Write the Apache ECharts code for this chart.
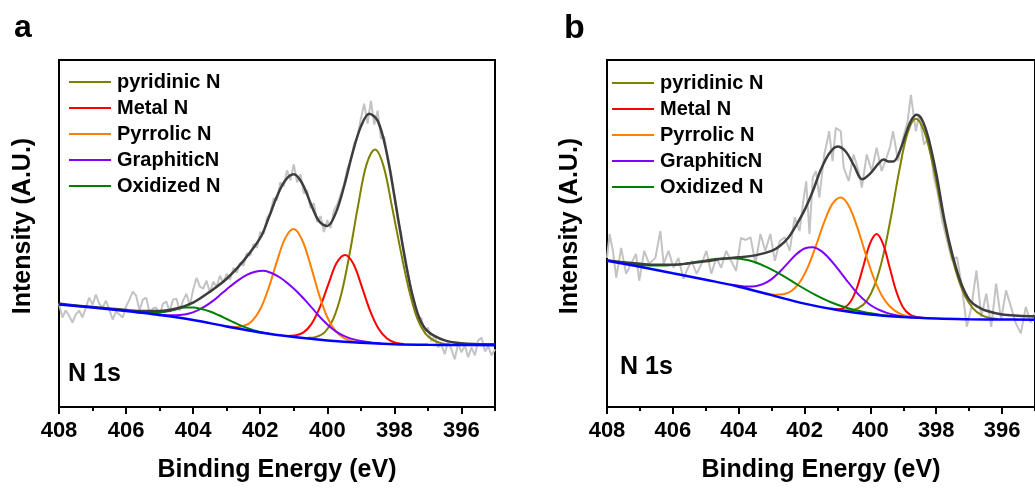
<!DOCTYPE html>
<html>
<head>
<meta charset="utf-8">
<script src="https://cdn.jsdelivr.net/npm/echarts@6/dist/echarts.min.js"></script>
<style>html,body{margin:0;padding:0;background:#fff}#c{width:1035px;height:488px}</style>
</head>
<body>
<div id="c"></div>
<script>
// ---------- DATA (binding energy eV, intensity in arbitrary units) ----------
const componentNames = ['pyridinic N', 'Metal N', 'Pyrrolic N', 'GraphiticN', 'Oxidized N'];
const majorTicks = [408, 406, 404, 402, 400, 398, 396];

// Panel a
const rawA = [
[408.0,104],[407.9,90],[407.8,97],[407.7,92],[407.6,85],[407.5,93],[407.4,97],[407.3,90],[407.2,100],[407.1,110],
[407.0,103],[406.9,113],[406.8,104],[406.7,100],[406.6,107],[406.5,98],[406.4,88],[406.3,96],[406.2,93],[406.1,90],
[406.0,101],[405.9,108],[405.8,116],[405.7,112],[405.6,97],[405.5,108],[405.4,110],[405.3,95],[405.2,99],[405.1,100],
[405.0,91],[404.9,104],[404.8,106],[404.7,96],[404.6,108],[404.5,109],[404.4,97],[404.3,107],[404.2,114],[404.1,102],
[404.0,118],[403.9,130],[403.8,121],[403.7,119],[403.6,127],[403.5,115],[403.4,126],[403.3,121],[403.2,132],[403.1,125],
[403.0,134],[402.9,128],[402.8,140],[402.7,135],[402.6,145],[402.5,142],[402.4,155],[402.3,152],[402.2,164],[402.1,160],
[402.0,176],[401.9,174],[401.8,190],[401.7,195],[401.6,210],[401.5,208],[401.4,226],[401.3,222],[401.2,238],[401.1,228],
[401.0,244],[400.9,226],[400.8,234],[400.7,215],[400.6,218],[400.5,200],[400.4,205],[400.3,186],[400.2,192],[400.1,176],
[400.0,188],[399.9,180],[399.8,198],[399.7,204],[399.6,214],[399.5,224],[399.4,240],[399.3,248],[399.2,265],[399.1,272],
[399.0,290],[398.9,305],[398.8,285],[398.7,308],[398.6,284],[398.5,298],[398.4,270],[398.3,272],[398.2,248],[398.1,236],
[398.0,214],[397.9,188],[397.8,175],[397.7,150],[397.6,135],[397.5,118],[397.4,106],[397.3,88],[397.2,90],[397.1,75],
[397.0,80],[396.9,66],[396.8,72],[396.7,60],[396.6,63],[396.5,53],[396.4,66],[396.3,58],[396.2,48],[396.1,64],
[396.0,55],[395.9,62],[395.8,50],[395.7,60],[395.6,52],[395.5,67],[395.4,70],[395.3,56],[395.2,61],[395.1,52],[395.0,58]
];
const envelopeA = [[408,104],[407.5,102],[407,100.5],[406.5,99],[406,97.5],[405.5,96.5],[405,96.5],[404.5,99],[404,105],[403.5,116],[403,129],[402.5,147],[402,170],[401.75,190],[401.5,212],[401.25,228],[401,234],[400.75,225],[400.5,205],[400.25,187],[400,182],[399.75,195],[399.5,222],[399.25,255],[399,282],[398.75,295],[398.5,288],[398.25,259],[398,212],[397.75,162],[397.5,118],[397.25,89],[397,76],[396.5,67],[396,64],[395.5,63.2],[395,63]];
const pyridinicA = [[400.58,69.6],[400.33,70.5],[400.08,75],[399.83,88],[399.58,114],[399.33,155],[399.08,203],[398.83,244],[398.58,259],[398.33,243],[398.08,203],[397.83,160],[397.58,120],[397.33,90],[397.08,74],[396.83,67],[396.58,64],[396.33,62.5]];
const metalA = [[401.22,71.5],[400.97,72],[400.72,74.8],[400.47,83.6],[400.22,100.4],[399.97,123.3],[399.72,145],[399.47,153],[399.22,143.9],[398.97,120.8],[398.72,96.4],[398.47,78.6],[398.22,68.8],[397.97,64.6],[397.72,63.3]];
const pyrrolicA = [[403,81.2],[402.75,80.5],[402.5,81.4],[402.25,86.3],[402,98.3],[401.75,119.6],[401.5,146.7],[401.25,170.1],[401,179],[400.75,168],[400.5,142.7],[400.25,113.5],[400,90.3],[399.75,76.2],[399.5,69.2],[399.25,66.1],[399,64.7]];
const graphiticA = [[404.9,92.6],[404.65,92.3],[404.4,92.6],[404.15,93.8],[403.9,96.7],[403.65,101.2],[403.4,107],[403.15,114.1],[402.9,121.1],[402.65,127.6],[402.4,132.9],[402.15,136.1],[401.9,137],[401.65,134.5],[401.4,130],[401.15,123.5],[400.9,116],[400.65,107],[400.4,97.5],[400.15,88],[399.9,80],[399.65,74],[399.4,70],[399.15,67.5],[398.9,65.8],[398.65,64.6],[398.4,63.8]];
const oxidizedA = [[405.75,95.6],[405.5,94.8],[405.25,94.5],[405,94.9],[404.75,96.2],[404.5,98.3],[404.25,100],[404,100],[403.75,98.5],[403.5,96],[403.25,92.5],[403,88.5],[402.75,84.5],[402.5,80.8],[402.25,77.8],[402,75.5],[401.75,73.9]];
const baselineA = [[408,103],[407,100],[406,96.5],[405,92.5],[404,87.5],[403,81],[402,75],[401,70.5],[400,67],[399,64.5],[398,63],[397,62.5],[396,62.3],[395,62.2]];

// Panel b
const rawB = [
[408.0,150],[407.92,174],[407.82,157],[407.72,130],[407.57,160],[407.42,134],[407.27,144],[407.12,154],[407.02,127],[406.87,157],
[406.72,144],[406.53,150],[406.38,177],[406.28,144],[406.13,157],[405.98,140],[405.83,150],[405.68,129],[405.58,137],[405.43,147],
[405.28,134],[405.13,144],[404.98,157],[404.83,134],[404.68,150],[404.53,140],[404.38,157],[404.23,147],[404.08,137],[403.93,170],
[403.79,168],[403.64,170.7],[403.49,144],[403.34,174],[403.19,157],[403.04,174],[402.9,147],[402.75,167],[402.6,170.7],[402.45,157],
[402.3,190.7],[402.15,177],[402.05,204],[401.95,227],[401.85,174],[401.75,230.7],[401.65,237.3],[401.55,210.7],[401.4,254],[401.25,277.3],
[401.15,247.3],[401.05,280.7],[400.9,277.3],[400.81,240.7],[400.66,227.3],[400.51,254],[400.36,237.3],[400.26,220.7],[400.11,254],[399.96,237.3],
[399.81,260.7],[399.66,237.3],[399.51,250.7],[399.4,262],[399.31,277.3],[399.16,247.3],[399.01,270],[398.87,287.3],[398.77,314],[398.62,277.3],
[398.52,294],[398.37,264],[398.22,270.7],[398.07,230.7],[397.97,217.3],[397.82,187.3],[397.67,167.3],[397.52,147.3],[397.37,150.7],[397.22,120.7],
[397.07,80.7],[396.93,100.7],[396.78,137.3],[396.63,90.7],[396.48,114],[396.33,80.7],[396.18,124],[396.03,87.3],[395.88,117.3],[395.73,100.7],
[395.58,84],[395.43,74],[395.28,100.7],[395.13,85],[395.0,95]
];
const envelopeB = [[408,147.5],[407.5,145.5],[407,144],[406.5,143],[406,143],[405.5,144.5],[405,146.5],[404.5,149],[404,150.5],[403.5,152.5],[403,157],[402.75,162],[402.5,170],[402.25,183],[402,198],[401.75,217],[401.5,239],[401.25,255],[401,262],[400.75,257],[400.5,243],[400.25,229],[400,235],[399.75,245],[399.6,249],[399.45,247],[399.3,247],[399.1,258],[398.9,277],[398.75,289],[398.6,294],[398.45,290],[398.25,272],[398,235],[397.75,188],[397.5,152],[397.25,125],[397,108],[396.75,101],[396.5,97],[396,93],[395.5,91.8],[395,91.2]];
const pyridinicB = [[400.87,97.2],[400.62,97.3],[400.37,99.5],[400.12,106.3],[399.87,122.5],[399.62,151],[399.37,192],[399.12,238.2],[398.87,275.7],[398.62,290],[398.37,277.8],[398.12,246.4],[397.87,205.1],[397.62,164.9],[397.37,133],[397.12,111.2],[396.87,98.7],[396.62,92.4],[396.37,89.6],[396.12,88.5]];
const metalB = [[401.21,99],[401.01,98.3],[400.81,99.6],[400.61,105.6],[400.41,119.7],[400.21,142.1],[400.01,164.5],[399.81,174],[399.61,163.5],[399.41,139.7],[399.21,115.9],[399.01,100.4],[398.81,93.2],[398.61,90.6],[398.41,89.7]];
const pyrrolicB = [[403.15,114.2],[402.9,112.9],[402.65,113.3],[402.4,116.7],[402.15,125.2],[401.9,140.7],[401.65,162.5],[401.4,186.2],[401.15,204.6],[400.9,210.7],[400.65,202],[400.4,180.9],[400.15,154.5],[399.9,130],[399.65,112],[399.4,100.8],[399.15,94.7],[398.9,91.5],[398.65,90.3]];
const graphiticB = [[404.25,123.1],[404,121.9],[403.75,121.1],[403.5,121.5],[403.25,123.8],[403,128.6],[402.75,136.1],[402.5,145],[402.25,153.6],[402,159.4],[401.75,160.7],[401.5,157],[401.25,149.4],[401,139.3],[400.75,128.7],[400.5,118.4],[400.25,109.5],[400,102.6],[399.75,97.9],[399.5,94.7],[399.25,92.6],[399,91.1]];
const oxidizedB = [[408,147.3],[407.7,145.8],[407.2,143.8],[406.7,142.4],[406.2,142.4],[405.7,143.8],[405.2,146.3],[404.7,148.8],[404.2,149.7],[403.7,147.5],[403.2,141.5],[402.7,132.9],[402.2,122.7],[401.7,113.3],[401.2,105.4],[400.7,99.6],[400.2,95.5],[399.7,92.9],[399.2,91.2]];
const baselineB = [[408,147],[407,141],[406,134.5],[405,128],[404,121],[403,112.5],[402,104],[401,97.5],[400,93],[399,90.5],[398,89],[397,88.3],[396,88],[395,87.8]];

// ---------- STYLE ----------
const FONT = '"Liberation Sans", Arial, sans-serif';
const colors = {
  raw: '#c3c3c3', fit: '#3d3d3d',
  'pyridinic N': '#808000', 'Metal N': '#ff0000', 'Pyrrolic N': '#ff8000',
  'GraphiticN': '#8000ff', 'Oxidized N': '#008000', base: '#0000ff'
};

function line(name, data, idx, color, width, smooth, z) {
  return {
    name: name, type: 'line', data: data, xAxisIndex: idx * 2, yAxisIndex: idx,
    showSymbol: false, symbol: 'none', smooth: smooth, animation: false, z: z,
    color: color, itemStyle: { color: color },
    lineStyle: { color: color, width: width }
  };
}
function panelSeries(idx, raw, env, comps, base) {
  const s = [line('Raw', raw, idx, colors.raw, 2, false, 2)];
  comps.forEach((d, i) => s.push(line(componentNames[i], d, idx, colors[componentNames[i]], 2, 0.35, 3)));
  s.push(line('Fit', env, idx, colors.fit, 2.5, 0.35, 4));
  s.push(line('Background', base, idx, colors.base, 2.5, 0.4, 5));
  return s;
}

function xAxes(gridIndex) {
  const common = { gridIndex: gridIndex, type: 'value', inverse: true, min: 395, max: 408, interval: 1, position: 'bottom', splitLine: { show: false } };
  return [
    Object.assign({}, common, {
      axisLine: { show: true, onZero: false, lineStyle: { color: '#000', width: 2 } },
      axisTick: { show: true, length: 4, lineStyle: { color: '#000', width: 2 } },
      axisLabel: { customValues: majorTicks, margin: 13, fontSize: 22, fontWeight: 'bold', color: '#000', fontFamily: FONT },
      name: 'Binding Energy (eV)', nameLocation: 'middle', nameGap: 51,
      nameTextStyle: { fontSize: 25, fontWeight: 'bold', color: '#000', fontFamily: FONT }
    }),
    Object.assign({}, common, {
      axisLine: { show: false },
      axisTick: { show: true, customValues: majorTicks, length: 7, lineStyle: { color: '#000', width: 2 } },
      axisLabel: { show: false }
    })
  ];
}
function yAxis(gridIndex) {
  return { gridIndex: gridIndex, type: 'value', min: 0, max: 349, axisLine: { show: false }, axisTick: { show: false }, axisLabel: { show: false }, splitLine: { show: false } };
}
function legend(left, top) {
  return {
    data: componentNames, orient: 'vertical', left: left, top: top, padding: 0,
    icon: 'rect', itemWidth: 42, itemHeight: 2, itemGap: 6, selectedMode: false,
    textStyle: { fontSize: 20, fontWeight: 'bold', color: '#000', fontFamily: FONT, lineHeight: 20, padding: [0, 0, 0, 1] }
  };
}
function txt(text, x, y, size, rot) {
  return { type: 'text', x: x, y: y, rotation: rot || 0, z: 10,
    style: { text: text, fontSize: size, fontWeight: 'bold', fontFamily: FONT, fill: '#000',
      align: rot ? 'center' : 'left', verticalAlign: 'middle' } };
}

const chart = echarts.init(document.getElementById('c'), null, { renderer: 'canvas' });
chart.setOption({
  animation: false,
  backgroundColor: '#fff',
  grid: [
    { left: 59, top: 60, width: 436, height: 349, show: true, borderColor: '#000', borderWidth: 2 },
    { left: 607, top: 60, width: 435.5, height: 349, show: true, borderColor: '#000', borderWidth: 2 }
  ],
  xAxis: xAxes(0).concat(xAxes(1)),
  yAxis: [yAxis(0), yAxis(1)],
  legend: [legend(69, 72), legend(612, 73)],
  series: panelSeries(0, rawA, envelopeA, [pyridinicA, metalA, pyrrolicA, graphiticA, oxidizedA], baselineA)
    .concat(panelSeries(1, rawB, envelopeB, [pyridinicB, metalB, pyrrolicB, graphiticB, oxidizedB], baselineB)),
  graphic: [
    txt('a', 14, 28, 32),
    txt('b', 564, 29, 34),
    txt('N 1s', 68, 374, 25),
    txt('N 1s', 620, 367, 25),
    txt('Intensity (A.U.)', 23, 226, 25, Math.PI / 2),
    txt('Intensity (A.U.)', 570, 226, 25, Math.PI / 2)
  ]
});
</script>
</body>
</html>
